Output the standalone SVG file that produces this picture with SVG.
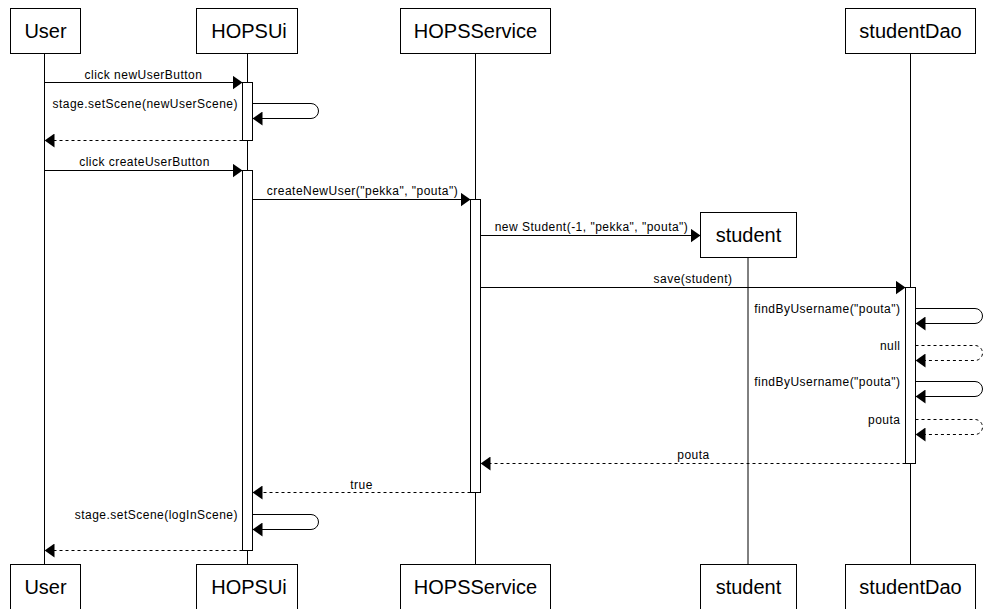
<svg xmlns="http://www.w3.org/2000/svg" width="986" height="609" viewBox="0 0 986 609">
<style>
.box{fill:#fff;stroke:#000;stroke-width:1}
.life{stroke:#000;stroke-width:1;fill:none}
.act{fill:#fff;stroke:#000;stroke-width:1}
.msg{stroke:#000;stroke-width:1;fill:none;marker-end:url(#arr)}
.ret{stroke:#000;stroke-width:1;fill:none;stroke-dasharray:3 3;marker-end:url(#arr)}
.name{font-family:"Liberation Sans",Arial,sans-serif;font-size:20px;fill:#000;text-anchor:middle}
.lbl{font-family:"Liberation Sans",Arial,sans-serif;font-size:12px;letter-spacing:0.48px;fill:#000;text-anchor:middle}
.rl{text-anchor:end}
</style>
<defs>
<marker id="arr" viewBox="0 0 10 14" refX="10" refY="7" markerWidth="10" markerHeight="14" markerUnits="userSpaceOnUse" orient="auto">
<path d="M0,0 L10,7 L0,14 Z" fill="#000"/>
</marker>
</defs>
<rect width="986" height="609" fill="#fff"/>
<g id="lifelines">
<line class="life" x1="44.5" y1="53" x2="44.5" y2="564"/>
<line class="life" x1="247.5" y1="53" x2="247.5" y2="564"/>
<line class="life" x1="475.5" y1="53" x2="475.5" y2="564"/>
<line class="life" x1="748" y1="258" x2="748" y2="564"/>
<line class="life" x1="910.5" y1="53" x2="910.5" y2="564"/>
</g>
<g id="User">
<rect class="box" x="10.5" y="8.5" width="70" height="45"/>
<text class="name" x="45.5" y="37.5">User</text>
<rect class="box" x="10.5" y="564.5" width="70" height="45"/>
<text class="name" x="45.5" y="593.5">User</text>
</g>
<g id="HOPSUi">
<rect class="box" x="196.5" y="8.5" width="101" height="45"/>
<text class="name" x="249" y="37.5">HOPSUi</text>
<rect class="box" x="196.5" y="564.5" width="101" height="45"/>
<text class="name" x="249" y="593.5">HOPSUi</text>
<rect class="act" x="242.5" y="82.5" width="10" height="58"/>
<rect class="act" x="242.5" y="170.5" width="10" height="380"/>
</g>
<g id="HOPSService">
<rect class="box" x="400.5" y="8.5" width="150" height="45"/>
<text class="name" x="475.5" y="37.5">HOPSService</text>
<rect class="box" x="400.5" y="564.5" width="150" height="45"/>
<text class="name" x="475.5" y="593.5">HOPSService</text>
<rect class="act" x="470.5" y="199.5" width="10" height="293"/>
</g>
<g id="student">
<rect class="box" x="700.5" y="212.5" width="96" height="45"/>
<text class="name" x="748.5" y="241.5">student</text>
<rect class="box" x="700.5" y="564.5" width="96" height="45"/>
<text class="name" x="748.5" y="593.5">student</text>
</g>
<g id="studentDao">
<rect class="box" x="845.5" y="8.5" width="130" height="45"/>
<text class="name" x="910.5" y="37.5">studentDao</text>
<rect class="box" x="845.5" y="564.5" width="130" height="45"/>
<text class="name" x="910.5" y="593.5">studentDao</text>
<rect class="act" x="905.5" y="287.5" width="10" height="176"/>
</g>
<g id="connectors">
<path class="msg" d="M44.5,82.5 H242.5"/>
<path class="msg" d="M252.5,103.5 H311 A7.5,7.5 0 0 1 311,118.5 H252.5"/>
<path class="ret" d="M242.5,140.5 H44.5"/>
<path class="msg" d="M44.5,170.5 H242.5"/>
<path class="msg" d="M252.5,199.5 H470.5"/>
<path class="msg" d="M480.5,235.5 H700.5"/>
<path class="msg" d="M480.5,287.5 H905.5"/>
<path class="msg" d="M915.5,308.5 H975 A7.5,7.5 0 0 1 975,323.5 H915.5"/>
<path class="ret" d="M915.5,345.5 H975 A7.5,7.5 0 0 1 975,360.5 H915.5"/>
<path class="msg" d="M915.5,381.5 H975 A7.5,7.5 0 0 1 975,396.5 H915.5"/>
<path class="ret" d="M915.5,419.5 H975 A7.5,7.5 0 0 1 975,434.5 H915.5"/>
<path class="ret" d="M905.5,463.5 H480.5"/>
<path class="ret" d="M470.5,492.5 H252.5"/>
<path class="msg" d="M252.5,514.5 H311 A7.5,7.5 0 0 1 311,529.5 H252.5"/>
<path class="ret" d="M242.5,550.5 H44.5"/>
<text class="lbl" x="143.5" y="78.5">click newUserButton</text>
<text class="lbl rl" x="238" y="107.5">stage.setScene(newUserScene)</text>
<text class="lbl" x="144.5" y="166">click createUserButton</text>
<text class="lbl" x="362.5" y="195">createNewUser("pekka", "pouta")</text>
<text class="lbl" x="591.5" y="231">new Student(-1, "pekka", "pouta")</text>
<text class="lbl" x="693" y="283">save(student)</text>
<text class="lbl rl" x="900.5" y="313">findByUsername("pouta")</text>
<text class="lbl rl" x="900.5" y="350">null</text>
<text class="lbl rl" x="900.5" y="386">findByUsername("pouta")</text>
<text class="lbl rl" x="900.5" y="423.5">pouta</text>
<text class="lbl" x="693.5" y="459">pouta</text>
<text class="lbl" x="361.5" y="488.5">true</text>
<text class="lbl rl" x="238" y="518.5">stage.setScene(logInScene)</text>
</g>
</svg>
